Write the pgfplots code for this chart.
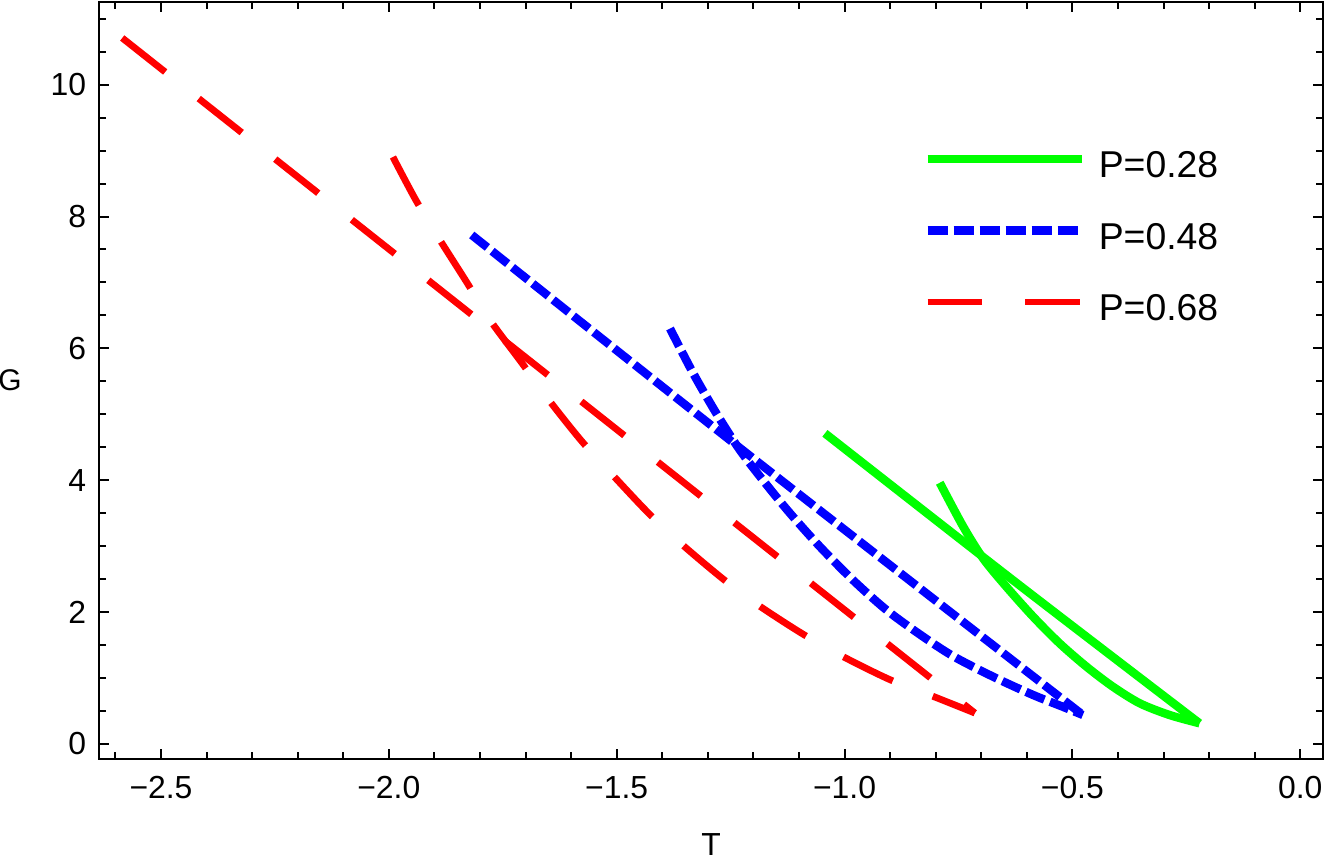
\documentclass[border=0pt]{standalone}
\usepackage{fontspec}
\setmainfont{Liberation Sans}
\usepackage{pgfplots}
\pgfplotsset{compat=1.18}
\begin{document}
\begin{tikzpicture}
\begin{axis}[
  scale only axis,
  width=612bp, height=378.5bp,
  xmin=-2.636, xmax=0.050,
  ymin=-0.232, ymax=11.255,
  axis line style={line width=1.2bp},
  every tick/.style={black, line width=1bp},
  major tick length=5bp,
  minor tick length=3.5bp,
  tick align=inside,
  xtick={-2.5,-2,-1.5,-1,-0.5,0},
  xticklabels={−2.5,−2.0,−1.5,−1.0,−0.5,0.0},
  ytick={0,2,4,6,8,10},
  yticklabels={0,2,4,6,8,10},
  minor xtick={-2.6,-2.4,-2.3,-2.2,-2.1,-1.9,-1.8,-1.7,-1.6,-1.4,-1.3,-1.2,-1.1,-0.9,-0.8,-0.7,-0.6,-0.4,-0.3,-0.2,-0.1},
  minor ytick={0.5,1,1.5,2.5,3,3.5,4.5,5,5.5,6.5,7,7.5,8.5,9,9.5,10.5,11},
  ticklabel style={font=\fontsize{16}{19}\selectfont},
  xticklabel style={anchor=base, inner sep=0pt, yshift=-19.5bp},
  yticklabel style={anchor=east, inner sep=0pt, xshift=-6.25bp},
  xlabel={T}, ylabel={G},
  every axis x label/.style={at={(axis description cs:0.5,0)}, anchor=base, inner sep=0pt, yshift=-48bp, font=\fontsize{16}{19}\selectfont},
  every axis y label/.style={at={(axis description cs:0,0.5)}, anchor=east, inner sep=0pt, xshift=-38.5bp, font=\fontsize{15}{18}\selectfont},
  legend style={draw=none, fill=none, at={(0.6732,0.8031)}, anchor=north west, inner sep=0pt,
    font=\fontsize{18.75}{22}\selectfont, row sep=21.25bp,
    /tikz/every odd column/.append style={column sep=6.5bp}, nodes={inner sep=0pt}},
  legend cell align=left,
  legend image code/.code={\draw[#1, line cap=butt] (0bp,0.358em) -- (77bp,0.358em);},
]
% P = 0.28
\addplot[green, line width=4.2bp, line join=round, smooth] coordinates {
(-1.043,4.71) (-0.632,2.49) (-0.221,0.31)};
\addlegendentry{P=0.28}
\addplot[green, line width=4.2bp, line join=round, smooth, forget plot] coordinates {
(-0.791,3.96) (-0.740,3.30) (-0.696,2.813) (-0.645,2.383) (-0.586,1.927) (-0.528,1.523)
(-0.469,1.169) (-0.411,0.865) (-0.352,0.613) (-0.287,0.436) (-0.221,0.31)};
% P = 0.48
\addplot[blue, line width=4.2bp, dash pattern=on 10bp off 3bp, line join=round, smooth] coordinates {
(-1.818,7.72) (-1.23,4.49) (-0.477,0.436)};
\addlegendentry{P=0.48}
\addplot[blue, line width=4.2bp, dash pattern=on 10bp off 3bp, line join=round, smooth, forget plot] coordinates {
(-1.383,6.30) (-1.332,5.62) (-1.281,5.01) (-1.230,4.46) (-1.178,3.99) (-1.120,3.50)
(-1.054,2.99) (-0.981,2.48) (-0.908,2.03) (-0.835,1.66) (-0.762,1.33) (-0.674,1.017)
(-0.586,0.739) (-0.521,0.561) (-0.477,0.436)};
% P = 0.68
\addplot[red, line width=3.4bp, dash pattern=on 27.4bp off 21.4bp, line join=round] coordinates {
(-2.585,10.709) (-0.714,0.466)};
\addlegendentry{P=0.68}
\addplot[red, line width=3.4bp, dash pattern=on 27.4bp off 21.4bp, line join=round, smooth, forget plot] coordinates {
(-1.991,8.903) (-1.942,8.265) (-1.892,7.689) (-1.828,6.991) (-1.778,6.429) (-1.708,5.777)
(-1.650,5.226) (-1.577,4.593) (-1.511,4.093) (-1.431,3.505) (-1.361,3.050) (-1.270,2.519)
(-1.193,2.120) (-1.094,1.675) (-1.010,1.346) (-0.902,0.977) (-0.813,0.739) (-0.714,0.466)};
\end{axis}
\pgfresetboundingbox
\path ([xshift=-49.5bp,yshift=-50bp]current axis.south west) rectangle ([xshift=2.5bp,yshift=1bp]current axis.north east);
\end{tikzpicture}
\end{document}
